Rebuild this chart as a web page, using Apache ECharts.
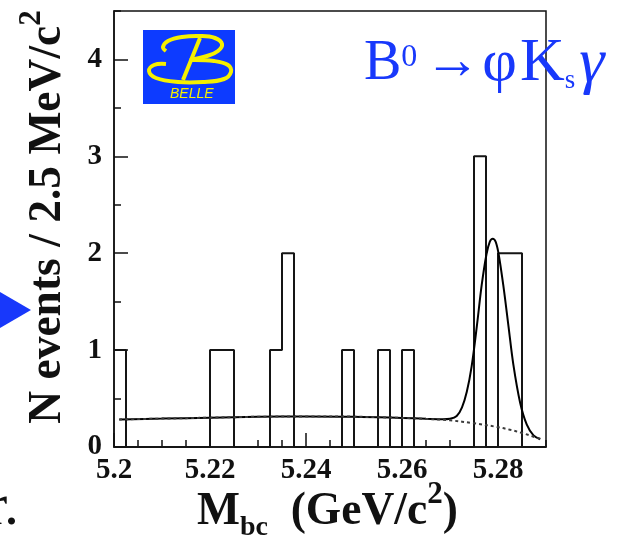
<!DOCTYPE html>
<html>
<head>
<meta charset="utf-8">
<script src="https://cdn.jsdelivr.net/npm/echarts@6/dist/echarts.min.js"></script>
<style>
  html, body { margin: 0; padding: 0; background: #fff; }
  #chart { width: 617px; height: 542px; }
</style>
</head>
<body>
<div id="chart"></div>
<script>
// M_bc spectrum for B0 -> phi Ks gamma candidates, 2.5 MeV/c^2 bins
const xMin = 5.2;
const xMax = 5.29;
const binWidth = 0.0025;
const counts = [1, 0, 0, 0, 0, 0, 0, 0, 1, 1, 0, 0, 0, 1, 2, 0, 0, 0,
                0, 1, 0, 0, 1, 0, 1, 0, 0, 0, 0, 0, 3, 0, 2, 2, 0, 0];

// fit projection: signal + background (solid)
const totalX = [5.2011, 5.21, 5.22, 5.23, 5.24, 5.25, 5.26, 5.265, 5.2685, 5.2700,
                5.2714, 5.2725, 5.2735, 5.2745, 5.2756, 5.2766, 5.2776, 5.2783, 5.2789,
                5.2795, 5.2801, 5.2811, 5.2822, 5.2832, 5.2846, 5.2860, 5.2874, 5.2888];
const totalY = [0.285, 0.293, 0.303, 0.312, 0.316, 0.313, 0.300, 0.292, 0.287, 0.292,
                0.32, 0.41, 0.57, 0.83, 1.25, 1.67, 1.99, 2.12, 2.15,
                2.12, 2.00, 1.67, 1.24, 0.85, 0.46, 0.23, 0.12, 0.08];

// background component (dotted)
const bkgX = [5.2011, 5.21, 5.22, 5.23, 5.24, 5.25, 5.26, 5.265, 5.27, 5.275,
              5.28, 5.2825, 5.285, 5.2865, 5.2878, 5.2888];
const bkgY = [0.285, 0.293, 0.303, 0.312, 0.316, 0.313, 0.300, 0.290, 0.275, 0.245,
              0.205, 0.178, 0.145, 0.122, 0.100, 0.085];

// axis ticks
const xLabelStep = 0.02, xMinorStep = 0.005;
const yMax = 4.5, yLabelStep = 1, yMinorStep = 0.5;

const histData = counts.map((c, i) => [xMin + i * binWidth, c]);
histData.push([xMax, 0]);
const zip = (xs, ys) => xs.map((x, i) => [x, ys[i]]);

const serif = "'Liberation Serif', 'Times New Roman', serif";
const blue = '#1838fb';

const chart = echarts.init(document.getElementById('chart'), null, { renderer: 'canvas' });

const tickLabel = {
  fontFamily: serif, fontWeight: 'bold', fontSize: 29, color: '#111'
};

chart.setOption({
  animation: false,
  backgroundColor: '#fff',
  grid: {
    left: 114, right: 71, top: 11, bottom: 95,
    show: true, borderColor: '#111', borderWidth: 1.5, backgroundColor: 'transparent'
  },
  xAxis: [{
    type: 'value', min: xMin, max: xMax, interval: xLabelStep,
    axisLine: { show: true, lineStyle: { color: '#111', width: 1.5 } },
    axisTick: { show: true, inside: true, length: 14, lineStyle: { color: '#111', width: 1.5 } },
    axisLabel: Object.assign({ margin: 9, showMaxLabel: false }, tickLabel),
    splitLine: { show: false }
  }, {
    type: 'value', min: xMin, max: xMax, interval: xMinorStep, position: 'bottom',
    axisLine: { show: false },
    axisTick: { show: true, inside: true, length: 7, lineStyle: { color: '#111', width: 1.5 } },
    axisLabel: { show: false },
    splitLine: { show: false }
  }],
  yAxis: [{
    type: 'value', min: 0, max: yMax, interval: yLabelStep,
    axisLine: { show: true, lineStyle: { color: '#111', width: 1.5 } },
    axisTick: { show: true, inside: true, length: 14, lineStyle: { color: '#111', width: 1.5 } },
    axisLabel: Object.assign({ margin: 12, showMaxLabel: false }, tickLabel),
    splitLine: { show: false }
  }, {
    type: 'value', min: 0, max: yMax, interval: yMinorStep, position: 'left', offset: 0,
    axisLine: { show: false },
    axisTick: { show: true, inside: true, length: 7, lineStyle: { color: '#111', width: 1.5 } },
    axisLabel: { show: false },
    splitLine: { show: false }
  }],
  series: [{
    name: 'data', type: 'line', step: 'end', data: histData,
    symbol: 'none', lineStyle: { color: '#151515', width: 2 }, z: 3
  }, {
    name: 'fit', type: 'line', data: zip(totalX, totalY), smooth: 0.35,
    symbol: 'none', lineStyle: { color: '#000', width: 2 }, z: 4
  }, {
    name: 'background', type: 'line', data: zip(bkgX, bkgY), smooth: 0.35,
    symbol: 'none', lineStyle: { color: '#3a3a3a', width: 2, type: [3, 3] }, z: 4
  }],
  graphic: [
    // y axis title
    {
      type: 'text', x: 48, y: 217, rotation: Math.PI / 2,
      style: {
        text: 'N events / 2.5 MeV/c{s|2}',
        fontFamily: serif, fontWeight: 'bold', fontSize: 45.5, lineHeight: 46,
        fill: '#111', align: 'center', verticalAlign: 'middle',
        rich: {
          s: { fontFamily: serif, fontWeight: 'bold', fontSize: 31, lineHeight: 46, padding: [0, 0, 32, 0], fill: '#111' }
        }
      }
    },
    // x axis title
    {
      type: 'text', x: 197, y: 512,
      style: {
        text: 'M{b|bc}  (GeV/c{s|2})',
        fontFamily: serif, fontWeight: 'bold', fontSize: 45.5, lineHeight: 46,
        fill: '#111', align: 'left', verticalAlign: 'middle',
        rich: {
          b: { fontFamily: serif, fontWeight: 'bold', fontSize: 28, lineHeight: 46, padding: [31, 0, 0, 0], fill: '#111' },
          s: { fontFamily: serif, fontWeight: 'bold', fontSize: 31, lineHeight: 46, padding: [0, 0, 34, 0], fill: '#111' }
        }
      }
    },
    // decay channel
    {
      type: 'text', x: 364, y: 64,
      style: {
        text: 'B{u|0}{a|→}{p|φ}{k|K}{d|s}{g|γ}',
        fontFamily: serif, fontSize: 56, lineHeight: 56,
        fill: blue, align: 'left', verticalAlign: 'middle',
        rich: {
          u: { fontFamily: serif, fontSize: 32, lineHeight: 56, padding: [0, 0, 12, 0], fill: blue },
          a: { fontFamily: serif, fontWeight: 'bold', fontSize: 56, lineHeight: 56, padding: [0, 0, 0, 7], fill: blue },
          p: { fontFamily: serif, fontSize: 60, lineHeight: 56, padding: [0, 2, 0, 2], fill: blue },
          k: { fontFamily: serif, fontSize: 62, lineHeight: 56, padding: [0, 0, 0, 1], fill: blue },
          d: { fontFamily: serif, fontSize: 27, lineHeight: 56, padding: [34, 0, 0, 0], fill: blue },
          g: { fontFamily: serif, fontStyle: 'italic', fontSize: 64, lineHeight: 56, padding: [0, 0, 0, 4], fill: blue }
        }
      }
    },
    // Belle logo
    {
      type: 'group', x: 0, y: 0,
      children: [
        { type: 'rect', shape: { x: 143, y: 30, width: 92, height: 74 }, style: { fill: '#0d3bff' } },
        {
          type: 'polyline',
          shape: { points: [[166, 51], [163, 47], [168, 41], [182, 37], [200, 36], [215, 38], [222, 44], [218, 51], [207, 56], [190, 60]], smooth: 0.4 },
          style: { stroke: '#f5f000', lineWidth: 4, fill: null }
        },
        {
          type: 'polyline',
          shape: { points: [[190, 60], [214, 61], [228, 65], [231, 72], [224, 79], [203, 82], [178, 82], [156, 78], [149, 71], [154, 65], [166, 64]], smooth: 0.4 },
          style: { stroke: '#f5f000', lineWidth: 4, fill: null }
        },
        {
          type: 'line', shape: { x1: 200, y1: 38, x2: 183, y2: 80 },
          style: { stroke: '#f5f000', lineWidth: 4 }
        },
        {
          type: 'text', x: 170, y: 94,
          style: {
            text: 'BELLE', fontFamily: "'Liberation Sans', Arial, sans-serif", fontStyle: 'italic',
            fontSize: 14, fill: '#f5f000', align: 'left', verticalAlign: 'middle'
          }
        }
      ]
    },
    // pointer arrow on the left margin
    {
      type: 'polygon',
      shape: { points: [[0, 292], [31, 310], [0, 328]] },
      style: { fill: blue }
    },
    // trailing text from the neighbouring column
    {
      type: 'text', x: 19, y: 508,
      style: {
        text: 'r.', fontFamily: serif, fontSize: 60, fill: '#111',
        align: 'right', verticalAlign: 'middle'
      }
    }
  ]
});
</script>
</body>
</html>
